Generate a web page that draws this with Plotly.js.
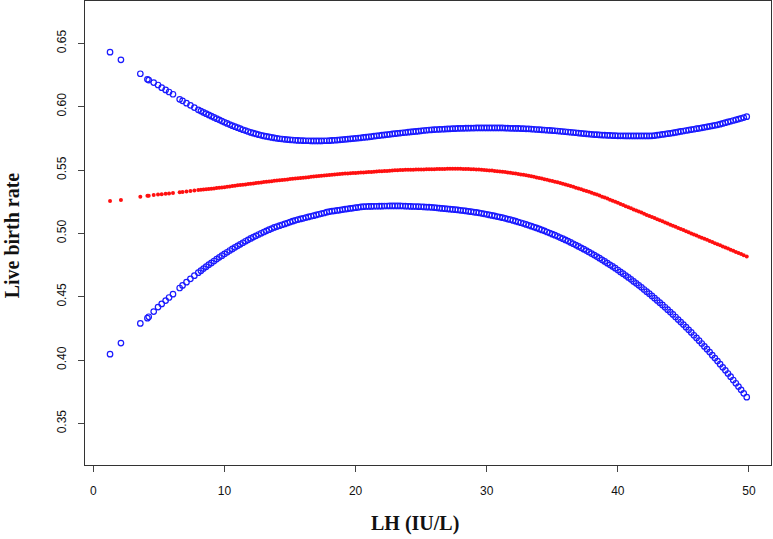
<!DOCTYPE html>
<html>
<head>
<meta charset="utf-8">
<script src="https://cdn.plot.ly/plotly-3.0.1.min.js"></script>
<style>html,body{margin:0;padding:0;background:#fff;}#chart{width:773px;height:539px;}</style>
</head>
<body>
<div id="chart"></div>
<script>
// LH (IU/L) values, first set
const lh = [1.27,2.1,3.58,4.12,4.22,4.6,4.93,5.21,5.51,5.77,6.07,6.58,6.8,7.1,7.4,7.7,
8.0,8.4,8.8,9.2,9.6,10.0,10.4,10.8,11.2,11.6,12.0,12.4,12.8,13.2,13.6,14.0,14.4,14.8,15.2,15.6,
16.0,16.4,16.8,17.2,17.6,18.0,18.4,18.8,19.2,19.6,20.0,20.4,20.8,21.2,21.6,22.0,22.4,22.8,23.2,23.6,
24.0,24.4,24.8,25.2,25.6,26.0,26.4,26.8,27.2,27.6,28.0,28.4,28.8,29.2,29.6,30.0,30.4,30.8,31.2,31.6,
32.0,32.4,32.8,33.2,33.6,34.0,34.4,34.8,35.2,35.6,36.0,36.4,36.8,37.2,37.6,38.0,38.4,38.8,39.2,39.6,
40.0,40.4,40.8,41.2,41.6,42.0,42.4,42.8,43.2,43.6,44.0,44.4,44.8,45.2,45.6,46.0,46.4,46.8,47.2,47.6,
48.0,48.4,48.8,49.2,49.6,49.83];

// Upper 95% CI
const upper = [.643,.637,.626,.6216,.621,.619,.6171,.615,.6132,.6116,.6098,.6058,.6046,.6028,.6011,.5993,
.5975,.5955,.5935,.5915,.5896,.5877,.5859,.5842,.5826,.5811,.5797,.5785,.5774,.5765,.5757,.5750,.5745,.5740,.5737,.5734,
.5732,.5731,.5730,.5730,.5731,.5732,.5735,.5738,.5742,.5746,.5750,.5754,.5759,.5764,.5770,.5775,.5780,.5785,.5790,.5794,
.5799,.5803,.5807,.5812,.5816,.5819,.5821,.5823,.5825,.5827,.5829,.5830,.5831,.5832,.5832,.5832,.5832,.5832,.5832,.5830,
.5829,.5828,.5826,.5825,.5822,.5819,.5816,.5813,.5810,.5806,.5802,.5798,.5794,.5790,.5786,.5782,.5779,.5776,.5774,.5772,
.5770,.5770,.5769,.5769,.5769,.5769,.5769,.5772,.5778,.5784,.5790,.5797,.5805,.5812,.5819,.5826,.5833,.5841,.5849,.5857,
.5868,.5880,.5891,.5902,.5914,.5921];

// Fitted live birth rate
const fitted = [.5256,.5264,.529,.5296,.5297,.5302,.5306,.5309,.5312,.5315,.5319,.5324,.5327,.5330,.5334,.5338,
.5342,.5346,.5351,.5355,.5360,.5365,.5370,.5376,.5381,.5386,.5391,.5397,.5402,.5407,.5412,.5417,.5422,.5426,.5431,.5435,
.5439,.5443,.5448,.5452,.5456,.5460,.5465,.5469,.5472,.5474,.5477,.5480,.5482,.5485,.5488,.5491,.5493,.5496,.5499,.5501,
.5502,.5503,.5504,.5505,.5506,.5507,.5508,.5509,.5510,.5510,.5510,.5509,.5507,.5505,.5502,.5499,.5496,.5491,.5486,.5481,
.5475,.5469,.5462,.5454,.5446,.5437,.5428,.5418,.5408,.5397,.5386,.5374,.5361,.5348,.5335,.5320,.5306,.5290,.5275,.5258,
.5241,.5224,.5207,.5189,.5172,.5155,.5138,.5121,.5103,.5086,.5069,.5052,.5035,.5017,.5000,.4983,.4966,.4949,.4931,.4914,
.4897,.4880,.4863,.4845,.4828,.4818];

// Lower 95% CI
const lower = [.4047,.4134,.4289,.4331,.4342,.4383,.4418,.4443,.4470,.4494,.4520,.4569,.4589,.4615,.4641,.4666,
.4690,.4722,.4753,.4782,.4811,.4838,.4865,.4890,.4914,.4938,.4960,.4981,.5001,.5020,.5038,.5054,.5068,.5082,.5096,.5109,
.5119,.5130,.5140,.5151,.5161,.5172,.5178,.5184,.5191,.5197,.5203,.5209,.5212,.5213,.5214,.5215,.5216,.5217,.5217,.5216,
.5214,.5212,.5211,.5209,.5207,.5204,.5199,.5195,.5191,.5187,.5182,.5177,.5171,.5165,.5158,.5150,.5142,.5133,.5124,.5113,
.5102,.5090,.5078,.5064,.5050,.5035,.5020,.5003,.4986,.4967,.4948,.4929,.4908,.4886,.4864,.4841,.4817,.4791,.4765,.4739,
.4711,.4682,.4652,.4621,.4590,.4557,.4524,.4489,.4453,.4417,.4379,.4340,.4300,.4260,.4218,.4175,.4131,.4086,.4039,.3992,
.3943,.3894,.3843,.3791,.3738,.3707];

// LH (IU/L) values, second set (dense part of the sample)
const lhB = [8.2,8.6,9.0,9.4,9.8,10.2,10.6,11.0,11.4,11.8,
12.2,12.6,13.0,13.4,13.8,14.2,14.6,15.0,15.4,15.8,
16.2,16.6,17.0,17.4,17.8,18.2,18.6,19.0,19.4,19.8,
20.2,20.6,21.0,21.4,21.8,22.2,22.6,23.0,23.4,23.8,
24.2,24.6,25.0,25.4,25.8,26.2,26.6,27.0,27.4,27.8,
28.2,28.6,29.0,29.4,29.8,30.2,30.6,31.0,31.4,31.8,
32.2,32.6,33.0,33.4,33.8,34.2,34.6,35.0,35.4,35.8,
36.2,36.6,37.0,37.4,37.8,38.2,38.6,39.0,39.4,39.8,
40.2,40.6,41.0,41.4,41.8,42.2,42.6,43.0,43.4,43.8,
44.2,44.6,45.0,45.4,45.8,46.2,46.6,47.0,47.4,47.8,
48.2,48.6,49.0,49.4];

const upperB = [.5965,.5945,.5925,.5905,.5886,.5868,.5850,.5834,.5818,.5804,
.5791,.5779,.5769,.5761,.5753,.5747,.5742,.5738,.5735,.5733,
.5731,.5730,.5730,.5730,.5731,.5734,.5736,.5740,.5744,.5748,
.5752,.5757,.5761,.5767,.5772,.5777,.5782,.5787,.5792,.5796,
.5801,.5805,.5809,.5814,.5817,.5820,.5822,.5824,.5826,.5828,
.5829,.5830,.5831,.5832,.5832,.5832,.5832,.5832,.5831,.5829,
.5828,.5827,.5825,.5823,.5820,.5817,.5814,.5811,.5808,.5804,
.5800,.5796,.5792,.5788,.5784,.5780,.5777,.5775,.5773,.5771,
.5770,.5769,.5769,.5769,.5769,.5769,.5770,.5775,.5781,.5787,
.5793,.5801,.5808,.5815,.5822,.5829,.5837,.5845,.5853,.5862,
.5874,.5885,.5896,.5908];

const fittedB = [.5344,.5349,.5353,.5358,.5363,.5368,.5373,.5379,.5384,.5389,
.5394,.5400,.5405,.5410,.5415,.5420,.5424,.5429,.5433,.5437,
.5441,.5446,.5450,.5454,.5458,.5463,.5467,.5471,.5473,.5476,
.5479,.5481,.5484,.5487,.5490,.5492,.5495,.5498,.5500,.5502,
.5503,.5504,.5505,.5506,.5507,.5508,.5509,.5510,.5510,.5510,
.5509,.5508,.5506,.5504,.5501,.5497,.5493,.5489,.5484,.5478,
.5472,.5465,.5458,.5450,.5442,.5433,.5423,.5413,.5403,.5392,
.5380,.5368,.5355,.5341,.5328,.5313,.5298,.5283,.5266,.5250,
.5232,.5215,.5198,.5181,.5164,.5146,.5129,.5112,.5095,.5078,
.5060,.5043,.5026,.5009,.4992,.4974,.4957,.4940,.4923,.4906,
.4888,.4871,.4854,.4837];

const lowerB = [.4706,.4737,.4767,.4797,.4824,.4851,.4877,.4902,.4926,.4949,
.4971,.4991,.5011,.5029,.5047,.5061,.5075,.5089,.5103,.5114,
.5125,.5135,.5146,.5156,.5167,.5175,.5181,.5188,.5194,.5200,
.5206,.5211,.5213,.5214,.5215,.5216,.5217,.5217,.5217,.5215,
.5213,.5212,.5210,.5208,.5206,.5202,.5197,.5193,.5189,.5185,
.5180,.5174,.5168,.5162,.5154,.5146,.5138,.5129,.5119,.5108,
.5096,.5084,.5071,.5057,.5043,.5027,.5011,.4994,.4977,.4958,
.4939,.4918,.4897,.4875,.4852,.4829,.4804,.4779,.4752,.4725,
.4696,.4667,.4637,.4606,.4574,.4540,.4506,.4471,.4435,.4398,
.4360,.4320,.4280,.4239,.4196,.4153,.4108,.4063,.4016,.3968,
.3919,.3869,.3817,.3765];

const xTicks = [0,10,20,30,40,50];
const yTicks = [0.35,0.40,0.45,0.50,0.55,0.60,0.65];
const yTickText = ["0.35","0.40","0.45","0.50","0.55","0.60","0.65"];
const xTitle = 'LH (IU/L)';
const yTitle = 'Live birth rate';

const allX = lh.concat(lhB);
const blueMarker = {symbol:'circle-open', size:5.5, color:'#1a1aff', line:{width:1.2, color:'#1a1aff'}};
const traces = [
  {x: allX, y: upper.concat(upperB), type:'scatter', mode:'markers', marker: blueMarker, name:'Upper CI'},
  {x: allX, y: lower.concat(lowerB), type:'scatter', mode:'markers', marker: blueMarker, name:'Lower CI'},
  {x: allX, y: fitted.concat(fittedB), type:'scatter', mode:'markers', marker:{symbol:'circle', size:4, color:'#ff1010'}, name:'Fitted'}
];

const axisCommon = {
  showline:true, mirror:true, linecolor:'#333', linewidth:1,
  ticks:'outside', ticklen:6, tickwidth:1, tickcolor:'#444',
  showgrid:false, zeroline:false,
  tickfont:{family:'Liberation Sans, Arial, sans-serif', size:12, color:'#111'}
};
const titleFont = {family:'Liberation Serif, Times New Roman, serif', size:20, color:'#111', weight:'bold'};

const layout = {
  width:773, height:539,
  margin:{l:85, r:2, t:1, b:74},
  paper_bgcolor:'#fff', plot_bgcolor:'#fff',
  showlegend:false,
  xaxis: Object.assign({}, axisCommon, {
    range:[-0.64, 51.68], tickvals:xTicks, ticktext:xTicks.map(String), ticklabelstandoff:9
  }),
  yaxis: Object.assign({}, axisCommon, {
    range:[0.3172, 0.6834], tickvals:yTicks, ticktext:yTickText, tickangle:-90, ticklabelstandoff:7
  }),
  annotations:[
    {text:xTitle, xref:'paper', yref:'paper', x:0.481, y:-0.125, xanchor:'center', yanchor:'middle', showarrow:false, font:titleFont},
    {text:yTitle, xref:'paper', yref:'paper', x:-0.1064, y:0.495, xanchor:'center', yanchor:'middle', textangle:-90, showarrow:false, font:titleFont}
  ]
};

Plotly.newPlot('chart', traces, layout, {displayModeBar:false, staticPlot:true});
</script>
</body>
</html>
